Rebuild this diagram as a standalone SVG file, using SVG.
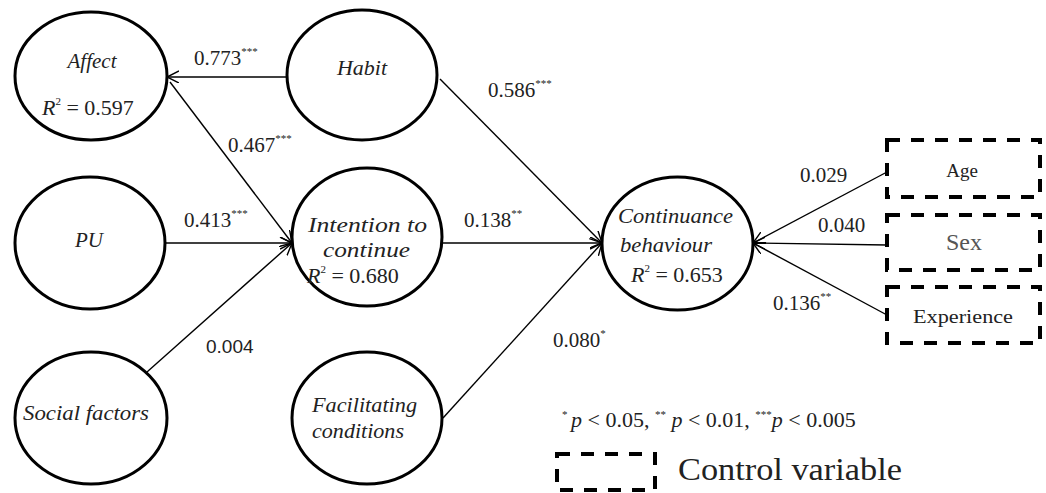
<svg xmlns="http://www.w3.org/2000/svg" width="1046" height="493" viewBox="0 0 1046 493">
<style>
.node{fill:#fff;stroke:#000;stroke-width:3}
.lbl{font-family:'Liberation Serif','Times New Roman',Tinos,'DejaVu Serif',serif;font-size:21px;fill:#222}
.nt{font-family:'Liberation Serif','Times New Roman',Tinos,'DejaVu Serif',serif;font-size:21px;font-style:italic;fill:#222}
.rt{font-family:'Liberation Serif','Times New Roman',Tinos,'DejaVu Serif',serif;font-size:22px;fill:#222}
.sup{font-size:11px}
.ctl{fill:#fff;stroke:#000;stroke-width:4;stroke-dasharray:13 11}
.cn{stroke:#000;stroke-width:1.4;fill:none}
</style>
<defs>
<marker id="arr" markerUnits="userSpaceOnUse" markerWidth="14" markerHeight="14" refX="12" refY="6" orient="auto">
<path d="M0,0 L12,6 L0,12" fill="none" stroke="#000" stroke-width="1.4"/>
</marker>
</defs>
<rect width="1046" height="493" fill="#fff"/>
<g id="connectors">
<path class="cn" d="M287,77 L167,77" marker-end="url(#arr)"/>
<path class="cn" d="M170,82 L292,243" marker-end="url(#arr)"/>
<path class="cn" d="M165,243 L292,243" marker-end="url(#arr)"/>
<path class="cn" d="M147,372 L292,243" marker-end="url(#arr)"/>
<path class="cn" d="M440,79 L602,243" marker-end="url(#arr)"/>
<path class="cn" d="M443,243 L602,243" marker-end="url(#arr)"/>
<path class="cn" d="M443,418 L602,243" marker-end="url(#arr)"/>
<path class="cn" d="M887,172 L753,243" marker-end="url(#arr)"/>
<path class="cn" d="M887,245 L753,243" marker-end="url(#arr)"/>
<path class="cn" d="M887,315 L753,243" marker-end="url(#arr)"/>
<text class="lbl" x="194" y="65">0.773<tspan class="sup" dy="-10">***</tspan></text>
<text class="lbl" x="228" y="152">0.467<tspan class="sup" dy="-10">***</tspan></text>
<text class="lbl" x="184" y="227">0.413<tspan class="sup" dy="-10">***</tspan></text>
<text class="lbl" x="464" y="227">0.138<tspan class="sup" dy="-10">**</tspan></text>
<text class="lbl" x="488" y="97">0.586<tspan class="sup" dy="-10">***</tspan></text>
<text x="206" y="353" font-family="'Liberation Sans',Arial,sans-serif" font-size="19" fill="#222">0.004</text>
<text class="lbl" x="553" y="347">0.080<tspan class="sup" dy="-10">*</tspan></text>
<text class="lbl" x="800" y="182">0.029</text>
<text class="lbl" x="818" y="232">0.040</text>
<text class="lbl" x="773" y="310">0.136<tspan class="sup" dy="-10">**</tspan></text>
</g>
<g id="affect">
<ellipse class="node" cx="91" cy="76" rx="76" ry="64"/>
<text class="nt" x="92" y="68" text-anchor="middle">Affect</text>
<text class="rt" x="42" y="115"><tspan font-style="italic">R</tspan><tspan class="sup" dy="-10">2</tspan><tspan dy="10"> = 0.597</tspan></text>
</g>
<g id="habit">
<ellipse class="node" cx="362" cy="75" rx="75" ry="65"/>
<text class="nt" x="337" y="75" textLength="50" lengthAdjust="spacingAndGlyphs">Habit</text>
</g>
<g id="pu">
<ellipse class="node" cx="90" cy="243" rx="75" ry="66"/>
<text class="nt" x="89" y="247" text-anchor="middle">PU</text>
</g>
<g id="intention">
<ellipse class="node" cx="367" cy="237" rx="75" ry="69"/>
<text class="nt" x="308" y="232" textLength="119" lengthAdjust="spacingAndGlyphs">Intention to</text>
<text class="nt" x="323" y="257" textLength="87" lengthAdjust="spacingAndGlyphs">continue</text>
<text class="rt" x="307" y="283"><tspan font-style="italic">R</tspan><tspan class="sup" dy="-10">2</tspan><tspan dy="10"> = 0.680</tspan></text>
</g>
<g id="social">
<ellipse class="node" cx="91" cy="418" rx="76" ry="66"/>
<text class="nt" x="23" y="420" textLength="126" lengthAdjust="spacingAndGlyphs">Social  factors</text>
</g>
<g id="facilitating">
<ellipse class="node" cx="367" cy="418" rx="75" ry="66"/>
<text class="nt" x="312" y="412" textLength="105" lengthAdjust="spacingAndGlyphs">Facilitating</text>
<text class="nt" x="312" y="438" textLength="92" lengthAdjust="spacingAndGlyphs">conditions</text>
</g>
<g id="continuance">
<ellipse class="node" cx="677.5" cy="243.5" rx="75.5" ry="66.5"/>
<text class="nt" x="618" y="223" textLength="115" lengthAdjust="spacingAndGlyphs">Continuance</text>
<text class="nt" x="620" y="252" textLength="92" lengthAdjust="spacingAndGlyphs">behaviour</text>
<text class="rt" x="631" y="282"><tspan font-style="italic">R</tspan><tspan class="sup" dy="-10">2</tspan><tspan dy="10"> = 0.653</tspan></text>
</g>
<g id="age">
<rect class="ctl" x="887" y="140" width="153" height="57"/>
<text class="lbl" x="962" y="177" text-anchor="middle" style="font-size:19px">Age</text>
</g>
<g id="sex">
<rect class="ctl" x="887" y="215" width="153" height="55"/>
<text class="lbl" x="964" y="250" text-anchor="middle" style="font-size:24px;fill:#555">Sex</text>
</g>
<g id="experience">
<rect class="ctl" x="887" y="287" width="153" height="56"/>
<text class="lbl" x="913" y="323" textLength="100" lengthAdjust="spacingAndGlyphs" style="font-size:19px">Experience</text>
</g>
<g id="legend">
<text class="rt" y="427"><tspan x="562" class="sup" dy="-9">*</tspan><tspan x="571" dy="9" font-style="italic">p</tspan><tspan> &lt; 0.05, </tspan><tspan class="sup" dy="-9">**</tspan><tspan dy="9" font-style="italic"> p</tspan><tspan> &lt; 0.01,  </tspan><tspan class="sup" dy="-9">***</tspan><tspan dy="9" font-style="italic">p</tspan><tspan> &lt; 0.005</tspan></text>
<rect class="ctl" x="557" y="454" width="98" height="36"/>
<text class="rt" x="678" y="480" textLength="224" lengthAdjust="spacingAndGlyphs" style="font-size:31px">Control variable</text>
</g>
</svg>
